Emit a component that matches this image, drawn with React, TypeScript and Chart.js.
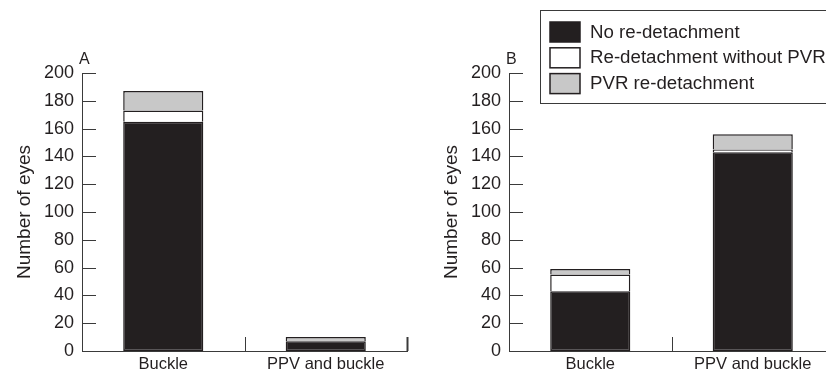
import React, { useEffect, useRef } from 'react';
import { Chart, registerables } from 'chart.js';

Chart.register(...registerables);

const categories = ['Buckle', 'PPV and buckle'];
const seriesLabels = ['No re-detachment', 'Re-detachment without PVR', 'PVR re-detachment'];

const panelANoRedetachment = [165, 7];
const panelAWithoutPVR = [8, 0];
const panelAPVR = [14, 3];

const panelBNoRedetachment = [43, 143];
const panelBWithoutPVR = [12, 2];
const panelBPVR = [4, 11];

const yMin = 0;
const yMax = 200;
const yStep = 20;

const TEXT = '#231f20';
const AXIS = '#3a3a3a';
const EDGE = '#231f20';
const FILLS = ['#231f20', '#ffffff', '#c8c8c8'];
const FAMILY = '"Liberation Sans", Arial, sans-serif';

const decorPlugin = {
  id: 'decor',
  afterDraw(chart: any, _args: any, opts: any) {
    const ctx = chart.ctx;
    const xs = chart.scales.x;
    const ys = chart.scales.y;
    const area = chart.chartArea;
    ctx.save();
    ctx.strokeStyle = AXIS;
    ctx.lineWidth = 1;
    ys.ticks.forEach((t: any) => {
      const py = Math.round(ys.getPixelForValue(t.value)) + 0.5;
      ctx.beginPath();
      ctx.moveTo(area.left, py);
      ctx.lineTo(area.left + 14, py);
      ctx.stroke();
    });
    const n = xs.ticks.length;
    const bounds: number[] = [area.left];
    for (let i = 0; i < n - 1; i++) {
      bounds.push((xs.getPixelForValue(i) + xs.getPixelForValue(i + 1)) / 2);
    }
    bounds.push(area.right);
    bounds.forEach((bx, i) => {
      const px = Math.round(bx) + 0.5;
      ctx.lineWidth = i === bounds.length - 1 ? 2 : 1;
      ctx.beginPath();
      ctx.moveTo(px, area.bottom);
      ctx.lineTo(px, area.bottom - 14);
      ctx.stroke();
    });
    ctx.fillStyle = TEXT;
    ctx.font = `16px ${FAMILY}`;
    ctx.textAlign = 'left';
    ctx.textBaseline = 'alphabetic';
    ctx.fillText(opts.letter, area.left - 3, area.top - 9.5);

    if (opts.showLegend) {
      const bx = area.left + 31.5;
      ctx.lineWidth = 1;
      ctx.strokeStyle = AXIS;
      ctx.strokeRect(bx, 10.5, 300, 93);
      chart.data.datasets.forEach((ds: any, i: number) => {
        const top = 22 + i * 25.8;
        ctx.fillStyle = ds.backgroundColor;
        ctx.fillRect(bx + 9.5, top, 30, 20);
        ctx.lineWidth = 1.5;
        ctx.strokeStyle = EDGE;
        ctx.strokeRect(bx + 9.5, top, 30, 20);
        ctx.fillStyle = TEXT;
        ctx.font = `18.7px ${FAMILY}`;
        ctx.textBaseline = 'middle';
        ctx.fillText(ds.label, bx + 49.5, top + 10.5);
      });
    }
    ctx.restore();
  },
};

function makeConfig(noR: number[], woPVR: number[], pvr: number[], letter: string, showLegend: boolean): any {
  const series = [noR, woPVR, pvr];
  return {
    type: 'bar',
    data: {
      labels: categories,
      datasets: series.map((d, i) => ({
        label: seriesLabels[i],
        data: d,
        backgroundColor: FILLS[i],
        borderColor: EDGE,
        borderWidth: 1.5,
        borderSkipped: i === 0 ? false : 'start',
        categoryPercentage: 1,
        barPercentage: 0.493,
      })),
    },
    options: {
      responsive: false,
      animation: false,
      devicePixelRatio: 1,
      layout: { padding: { top: 73, right: 13, bottom: 0, left: 0 } },
      plugins: {
        legend: { display: false },
        tooltip: { enabled: false },
        decor: { letter, showLegend },
      },
      scales: {
        x: {
          stacked: true,
          grid: { display: false, drawTicks: false },
          border: { display: true, color: AXIS, width: 1 },
          ticks: { color: TEXT, font: { family: FAMILY, size: 16.5 }, padding: 4 },
          afterFit: (s: any) => {
            s.height = 24;
          },
        },
        y: {
          stacked: true,
          min: yMin,
          max: yMax,
          grid: { display: false, drawTicks: false },
          border: { display: true, color: AXIS, width: 1 },
          ticks: { stepSize: yStep, color: TEXT, font: { family: FAMILY, size: 18 }, padding: 8 },
          title: {
            display: true,
            text: 'Number of eyes',
            color: TEXT,
            font: { family: FAMILY, size: 19 },
            padding: { top: 13.5, bottom: 0 },
          },
          afterFit: (s: any) => {
            s.width = 82;
          },
        },
      },
    },
    plugins: [decorPlugin],
  };
}

function Panel(props: { noR: number[]; woPVR: number[]; pvr: number[]; letter: string; showLegend: boolean; left: number }) {
  const ref = useRef<HTMLCanvasElement>(null);
  useEffect(() => {
    if (!ref.current) return;
    const chart = new Chart(ref.current, makeConfig(props.noR, props.woPVR, props.pvr, props.letter, props.showLegend));
    return () => chart.destroy();
  }, []);
  return (
    <canvas
      ref={ref}
      width={420}
      height={375}
      style={{ position: 'absolute', left: props.left, top: 0, width: 420, height: 375 }}
    />
  );
}

export default function App() {
  return (
    <div style={{ position: 'fixed', left: 0, top: 0, width: 826, height: 375, overflow: 'hidden', background: '#fff' }}>
      <Panel noR={panelANoRedetachment} woPVR={panelAWithoutPVR} pvr={panelAPVR} letter="A" showLegend={false} left={0} />
      <Panel noR={panelBNoRedetachment} woPVR={panelBWithoutPVR} pvr={panelBPVR} letter="B" showLegend={true} left={427} />
    </div>
  );
}
